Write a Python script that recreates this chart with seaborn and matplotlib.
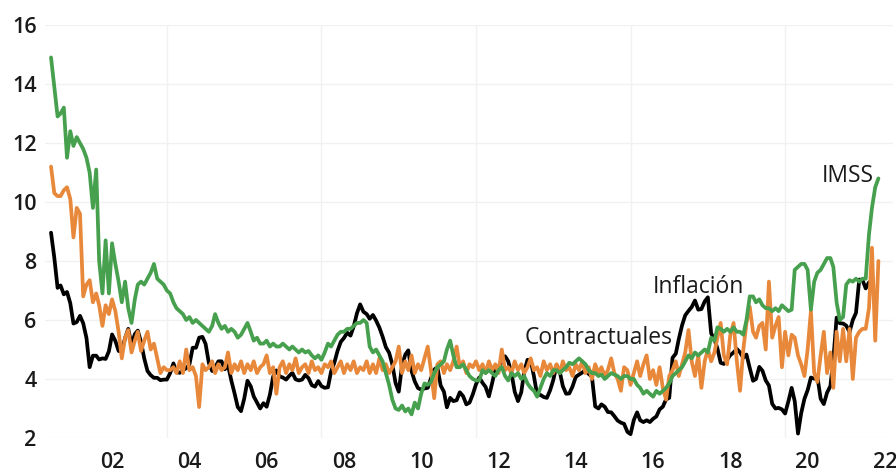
import numpy as np
import pandas as pd
import matplotlib
matplotlib.use('Agg')
import matplotlib.pyplot as plt
import seaborn as sns

# series mensuales, dic-2000 en adelante (% anual)
inflacion = [8.96,
    8.11, 7.09, 7.17, 6.87, 6.95, 6.57, 5.88, 5.93, 6.14, 5.89, 5.39, 4.40,   # 2001
    4.79, 4.79, 4.66, 4.70, 4.68, 4.94, 5.51, 5.29, 4.95, 4.94, 5.39, 5.70,   # 2002
    5.16, 5.52, 5.64, 5.25, 4.70, 4.27, 4.13, 4.04, 4.04, 3.96, 3.98, 3.98,   # 2003
    4.20, 4.53, 4.23, 4.21, 4.29, 4.37, 4.49, 5.06, 5.06, 5.40, 5.43, 5.19,   # 2004
    4.54, 4.27, 4.39, 4.60, 4.60, 4.33, 4.47, 3.95, 3.51, 3.05, 2.91, 3.33,   # 2005
    3.94, 3.75, 3.41, 3.20, 3.00, 3.18, 3.06, 3.47, 4.09, 4.29, 4.09, 4.05,   # 2006
    3.98, 4.11, 4.21, 3.99, 3.95, 3.98, 4.14, 4.03, 3.79, 3.74, 3.93, 3.76,   # 2007
    3.70, 3.72, 4.25, 4.55, 4.95, 5.26, 5.39, 5.57, 5.47, 5.78, 6.23, 6.53,   # 2008
    6.28, 6.20, 6.04, 6.17, 5.98, 5.74, 5.44, 5.08, 4.89, 4.50, 3.86, 3.57,   # 2009
    4.46, 4.83, 4.97, 4.27, 3.92, 3.69, 3.64, 3.68, 3.70, 4.02, 4.32, 4.40,   # 2010
    3.78, 3.57, 3.04, 3.36, 3.25, 3.28, 3.55, 3.42, 3.14, 3.20, 3.48, 3.82,   # 2011
    4.05, 3.87, 3.73, 3.41, 3.85, 4.34, 4.42, 4.57, 4.77, 4.60, 4.18, 3.57,   # 2012
    3.25, 3.55, 4.25, 4.65, 4.63, 4.09, 3.47, 3.46, 3.39, 3.36, 3.62, 3.97,   # 2013
    4.48, 4.23, 3.76, 3.50, 3.51, 3.75, 4.07, 4.15, 4.22, 4.30, 4.17, 4.08,   # 2014
    3.07, 3.00, 3.14, 3.06, 2.88, 2.87, 2.74, 2.59, 2.52, 2.48, 2.21, 2.13,   # 2015
    2.61, 2.87, 2.60, 2.54, 2.60, 2.54, 2.65, 2.73, 2.97, 3.06, 3.31, 3.36,   # 2016
    4.72, 4.86, 5.35, 5.82, 6.16, 6.31, 6.44, 6.66, 6.35, 6.37, 6.63, 6.77,   # 2017
    5.55, 5.34, 5.04, 4.55, 4.51, 4.65, 4.81, 4.90, 5.02, 4.90, 4.72, 4.83,   # 2018
    4.37, 3.94, 4.00, 4.41, 4.28, 3.95, 3.78, 3.16, 3.00, 3.02, 2.97, 2.83,   # 2019
    3.24, 3.70, 3.25, 2.15, 2.84, 3.33, 3.62, 4.05, 4.01, 4.09, 3.33, 3.15,   # 2020
    3.54, 3.76, 4.67, 6.08, 5.89, 5.88, 5.81, 5.59, 6.00, 6.24, 7.37, 7.36,   # 2021
    7.07, 7.28]                                                               # 2022

contractuales = [11.2,
    10.3, 10.2, 10.2, 10.4, 10.5, 10.1, 8.8, 9.8, 9.6, 6.8, 7.2, 7.35,
    6.6, 6.9, 6.5, 5.8, 6.5, 6.2, 6.7, 6.3, 5.6, 4.7, 5.4, 5.66,
    4.9, 5.3, 5.6, 4.95, 5.3, 5.6, 5.0, 5.2, 4.7, 4.2, 4.4, 4.3,
    4.3, 4.4, 4.2, 4.6, 4.2, 5.0, 4.3, 4.4, 4.1, 3.05, 4.5, 4.3,
    4.4, 4.6, 4.2, 4.5, 4.3, 4.4, 4.9, 4.2, 4.5, 4.3, 4.6, 4.2,
    4.5, 4.3, 4.6, 4.2, 4.4, 4.5, 4.8, 4.2, 4.4, 3.5, 4.4, 4.6,
    4.2, 4.5, 4.3, 4.7, 4.2, 4.4, 4.5, 4.2, 4.6, 4.3, 4.4, 4.2,
    4.5, 4.4, 4.6, 4.2, 4.4, 4.6, 4.2, 4.5, 4.3, 4.6, 4.2, 4.4,
    4.3, 4.6, 4.2, 4.5, 4.2, 4.7, 4.3, 4.5, 4.2, 4.4, 4.6, 5.1,
    4.2, 4.6, 4.3, 4.8, 4.2, 4.5, 4.3, 4.7, 5.1, 4.3, 3.35, 4.5,
    4.6, 4.2, 4.5, 4.3, 4.6, 5.1, 4.4, 4.6, 4.2, 4.5, 4.4, 4.6,
    4.3, 4.5, 4.2, 4.6, 4.3, 4.5, 4.2, 5.0, 4.3, 4.4, 4.2, 4.6,
    4.3, 4.5, 4.2, 4.4, 4.7, 4.3, 4.4, 4.1, 4.6, 4.3, 4.5, 4.2,
    4.5, 4.2, 4.6, 4.3, 4.4, 4.1, 4.5, 4.3, 4.6, 4.2, 4.4, 4.0,
    4.5, 4.2, 4.4, 4.1, 4.3, 4.7, 4.2, 4.0, 3.6, 4.4, 4.3, 3.8,
    4.2, 4.6, 4.1, 4.5, 4.8, 4.0, 4.3, 3.8, 4.4, 3.7, 3.3, 4.1,
    4.3, 4.6, 4.1, 4.5, 4.9, 5.66, 4.6, 4.1, 4.8, 3.7, 4.6, 5.0,
    4.6, 4.9, 5.4, 5.9, 4.8, 4.5, 5.5, 5.9, 4.6, 3.6, 5.0, 5.9,
    6.45, 5.6, 5.4, 5.8, 5.9, 5.0, 7.3, 5.4, 5.8, 6.1, 4.4, 5.6,
    4.8, 5.5, 5.4, 4.8, 4.5, 4.1, 5.0, 6.3, 4.2, 3.9, 4.8, 5.6,
    4.2, 4.9, 3.7, 5.6, 4.6, 5.7, 4.6, 5.7, 4.0, 5.4, 5.6, 5.7,
    5.7, 6.4, 8.45, 5.3, 8.0]

imss = [14.9,
    13.9, 12.9, 13.0, 13.2, 11.5, 12.4, 11.9, 12.2, 12.0, 11.8, 11.5, 11.0,
    9.8, 11.1, 8.0, 6.9, 8.7, 6.9, 8.6, 7.9, 7.3, 6.6, 7.3, 6.4,
    5.9, 6.7, 7.2, 7.3, 7.2, 7.4, 7.6, 7.9, 7.4, 7.3, 7.2, 7.0,
    6.9, 6.6, 6.4, 6.3, 6.2, 6.0, 6.1, 5.9, 6.0, 5.9, 5.8, 5.7,
    5.6, 5.8, 6.2, 5.9, 5.7, 5.8, 5.6, 5.7, 5.6, 5.4, 5.5, 5.7,
    5.9, 5.6, 5.3, 5.4, 5.2, 5.2, 5.3, 5.1, 5.2, 5.1, 5.1, 5.2,
    5.1, 5.0, 5.1, 5.0, 4.9, 5.0, 4.9, 4.95, 4.8, 4.7, 4.8, 4.65,
    4.9, 5.2, 5.1, 5.3, 5.5, 5.6, 5.6, 5.7, 5.7, 5.8, 5.9, 5.9,
    6.0, 5.9, 5.1, 4.9, 5.0, 4.8, 4.6, 4.2, 3.8, 3.3, 3.0, 2.95,
    3.1, 2.9, 3.0, 2.8, 3.2, 3.0, 3.5, 3.85, 3.8, 3.9, 4.2, 4.4,
    4.5, 4.6, 5.0, 5.3, 4.8, 4.4, 4.4, 4.5, 4.3, 4.1, 4.0, 3.95,
    3.95, 4.3, 4.2, 4.3, 4.2, 4.1, 4.3, 4.4, 4.1, 3.95, 4.2, 4.1,
    4.2, 4.0, 4.1, 3.85, 3.7, 3.6, 3.4, 3.7, 4.0, 4.2, 4.1, 4.3,
    4.3, 4.2, 4.3, 4.4, 4.55, 4.5, 4.6, 4.7, 4.6, 4.5, 4.3, 4.2,
    4.2, 4.1, 4.15, 4.0, 4.1, 4.2, 4.15, 4.1, 4.0, 4.1, 4.1, 4.0,
    4.0, 3.8, 3.7, 3.5, 3.6, 3.5, 3.4, 3.6, 3.5, 3.6, 3.7, 3.85,
    4.1, 4.2, 4.3, 4.4, 4.6, 4.8, 4.7, 4.9, 4.8, 4.9, 5.0, 4.9,
    5.4, 5.3, 5.75, 5.7, 5.6, 5.7, 5.6, 5.75, 5.6, 5.6, 5.5, 6.0,
    6.8, 6.8, 6.6, 6.7, 6.5, 6.4, 6.4, 6.3, 6.4, 6.3, 6.5, 6.4,
    6.3, 6.35, 7.7, 7.8, 7.9, 7.9, 7.7, 6.35, 7.3, 7.6, 7.7, 7.9,
    8.1, 8.1, 7.8, 6.6, 6.0, 6.1, 7.2, 7.35, 7.3, 7.4, 7.3, 7.4,
    7.4, 8.9, 9.8, 10.5, 10.8]

y_ticks = [2, 4, 6, 8, 10, 12, 14, 16]
x_tick_years = [2002, 2004, 2006, 2008, 2010, 2012, 2014, 2016, 2018, 2020, 2022]
grid_years = [2003, 2007, 2011, 2015, 2019]

fechas = pd.date_range('2000-12-01', periods=len(imss), freq='MS')
df_inf = pd.DataFrame({'fecha': fechas[:len(inflacion)], 'valor': inflacion})
df_con = pd.DataFrame({'fecha': fechas[:len(contractuales)], 'valor': contractuales})
df_ims = pd.DataFrame({'fecha': fechas, 'valor': imss})

sns.set_theme(style='white')
plt.rcParams['font.family'] = ['Open Sans', 'DejaVu Sans']

fig = plt.figure(figsize=(8.96, 4.76), dpi=100)
ax = fig.add_axes([45/896, 38/476, 848/896, 413/476])

for y in y_ticks:
    ax.axhline(y, color='#f1f1f1', lw=1, zorder=0)
for yr in grid_years:
    ax.axvline(pd.Timestamp(f'{yr}-12-01'), color='#f1f1f1', lw=1, zorder=0)

sns.lineplot(data=df_inf, x='fecha', y='valor', color='#000000', lw=2.7, ax=ax, zorder=3)
sns.lineplot(data=df_con, x='fecha', y='valor', color='#e8883a', lw=2.7, ax=ax, zorder=4)
sns.lineplot(data=df_ims, x='fecha', y='valor', color='#46a04e', lw=2.7, ax=ax, zorder=5)

ax.set_xlim(pd.Timestamp('2000-10-05'), pd.Timestamp('2022-09-16'))
ax.set_ylim(2, 16)
ax.set_yticks(y_ticks)
ax.set_yticklabels([str(v) for v in y_ticks])
ax.set_xticks([pd.Timestamp(f'{yr}-07-01') for yr in x_tick_years])
ax.set_xticklabels([f'{yr % 100:02d}' for yr in x_tick_years])
ax.tick_params(axis='both', length=0, labelsize=15.5, colors='#1a1a1a')
ax.tick_params(axis='y', pad=6)
ax.tick_params(axis='x', pad=10)
for lab in ax.get_xticklabels() + ax.get_yticklabels():
    lab.set_fontweight('semibold')
ax.set_xlabel('')
ax.set_ylabel('')
for s in ax.spines.values():
    s.set_visible(False)

etiqueta = dict(fontsize=16.5, color='#1a1a1a', ha='left', va='center', zorder=6)
ax.text(pd.Timestamp('2020-11-15'), 10.88, 'IMSS', **etiqueta)
ax.text(pd.Timestamp('2016-07-01'), 7.12, 'Inflación', **etiqueta)
ax.text(pd.Timestamp('2013-03-01'), 5.39, 'Contractuales', **etiqueta)

fig.savefig('out.png', dpi=100)
